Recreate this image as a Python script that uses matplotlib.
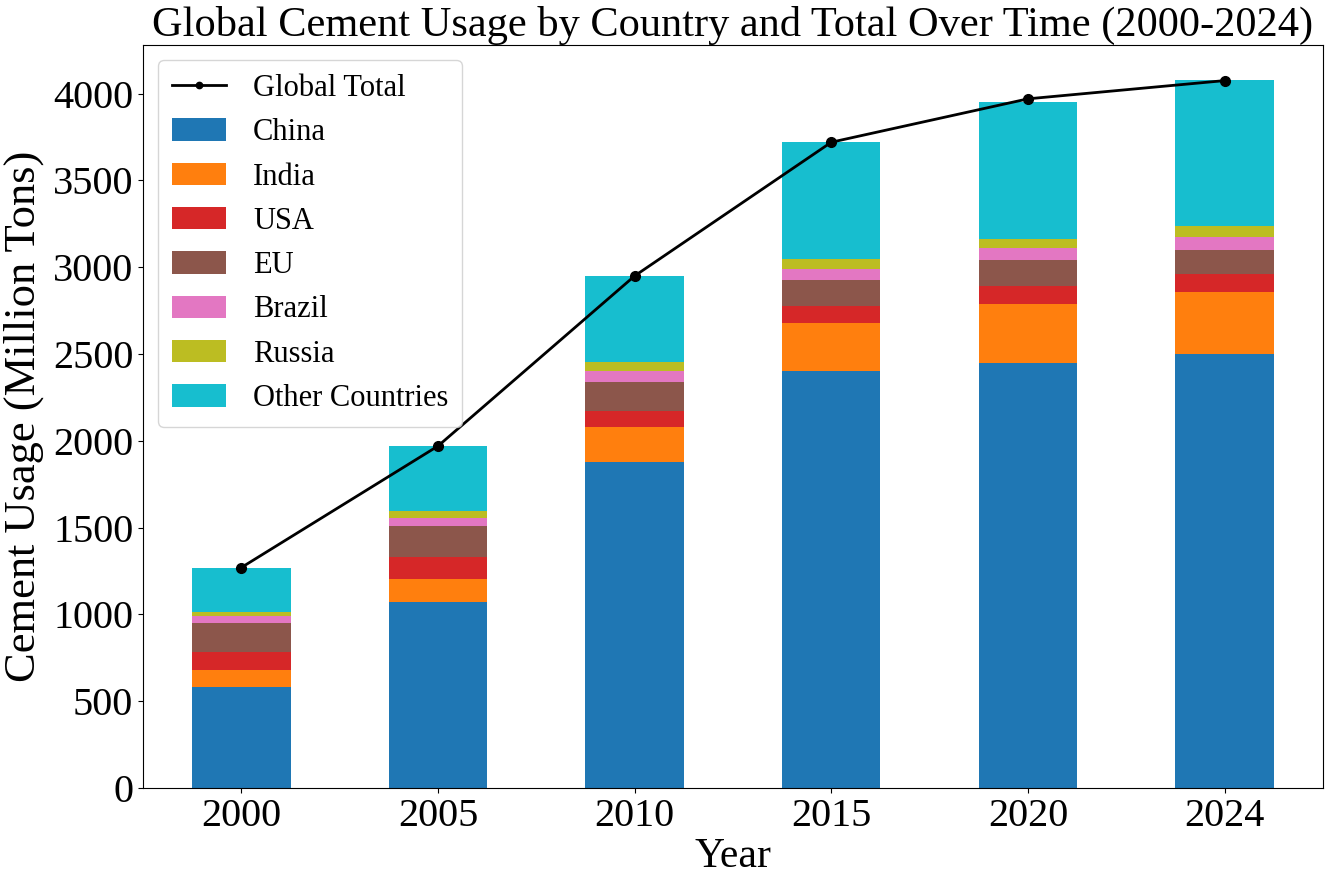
import matplotlib
matplotlib.use("Agg")
import matplotlib.pyplot as plt
import numpy as np

years = ["2000", "2005", "2010", "2015", "2020", "2024"]
china = [580, 1070, 1880, 2400, 2450, 2500]
india = [100, 135, 200, 280, 340, 360]
usa = [105, 125, 90, 95, 100, 100]
eu = [165, 180, 170, 150, 150, 140]
brazil = [40, 45, 60, 65, 70, 75]
russia = [25, 40, 55, 60, 55, 60]
other = [250, 375, 495, 670, 785, 845]
global_total = [1270, 1970, 2950, 3720, 3970, 4075]

series_names = ["China", "India", "USA", "EU", "Brazil", "Russia", "Other Countries"]
series_vals = [china, india, usa, eu, brazil, russia, other]
colors = ["#1f77b4", "#ff7f0e", "#d62728", "#8c564b", "#e377c2", "#bcbd22", "#17becf"]

plt.rcParams['font.family'] = ['Liberation Serif', 'DejaVu Serif']

fig = plt.figure(figsize=(13.28, 8.74), dpi=100)
ax = fig.add_axes([0.1077, 0.0984, 0.8885, 0.8501])

x = np.arange(len(years))
line, = ax.plot(x, global_total, color="black", marker="o", linewidth=2, markersize=7,
                label="Global Total", zorder=3)
bottom = np.zeros(len(years))
bars = []
for name, vals, c in zip(series_names, series_vals, colors):
    b = ax.bar(x, vals, width=0.5, bottom=bottom, color=c, label=name, zorder=2)
    bars.append(b)
    bottom += np.array(vals)

ax.set_xlim(-0.5, 5.5)
ax.set_ylim(0, 4280)
ax.set_xticks(x)
ax.set_xticklabels(years)
ax.set_yticks([0, 500, 1000, 1500, 2000, 2500, 3000, 3500, 4000])
ax.tick_params(axis='both', labelsize=29)
ax.set_xlabel("Year", fontsize=30, labelpad=2)
ax.set_ylabel("Cement Usage (Million Tons)", fontsize=32, labelpad=6)
ax.set_title("Global Cement Usage by Country and Total Over Time (2000-2024)", fontsize=30.5, pad=6)

ax.legend([line] + bars, ["Global Total"] + series_names, loc="upper left", fontsize=22,
          handlelength=1.75, handleheight=0.75, labelspacing=0.5, handletextpad=0.9,
          borderpad=0.45, markerscale=0.65)

fig.savefig("out.png", dpi=100)
